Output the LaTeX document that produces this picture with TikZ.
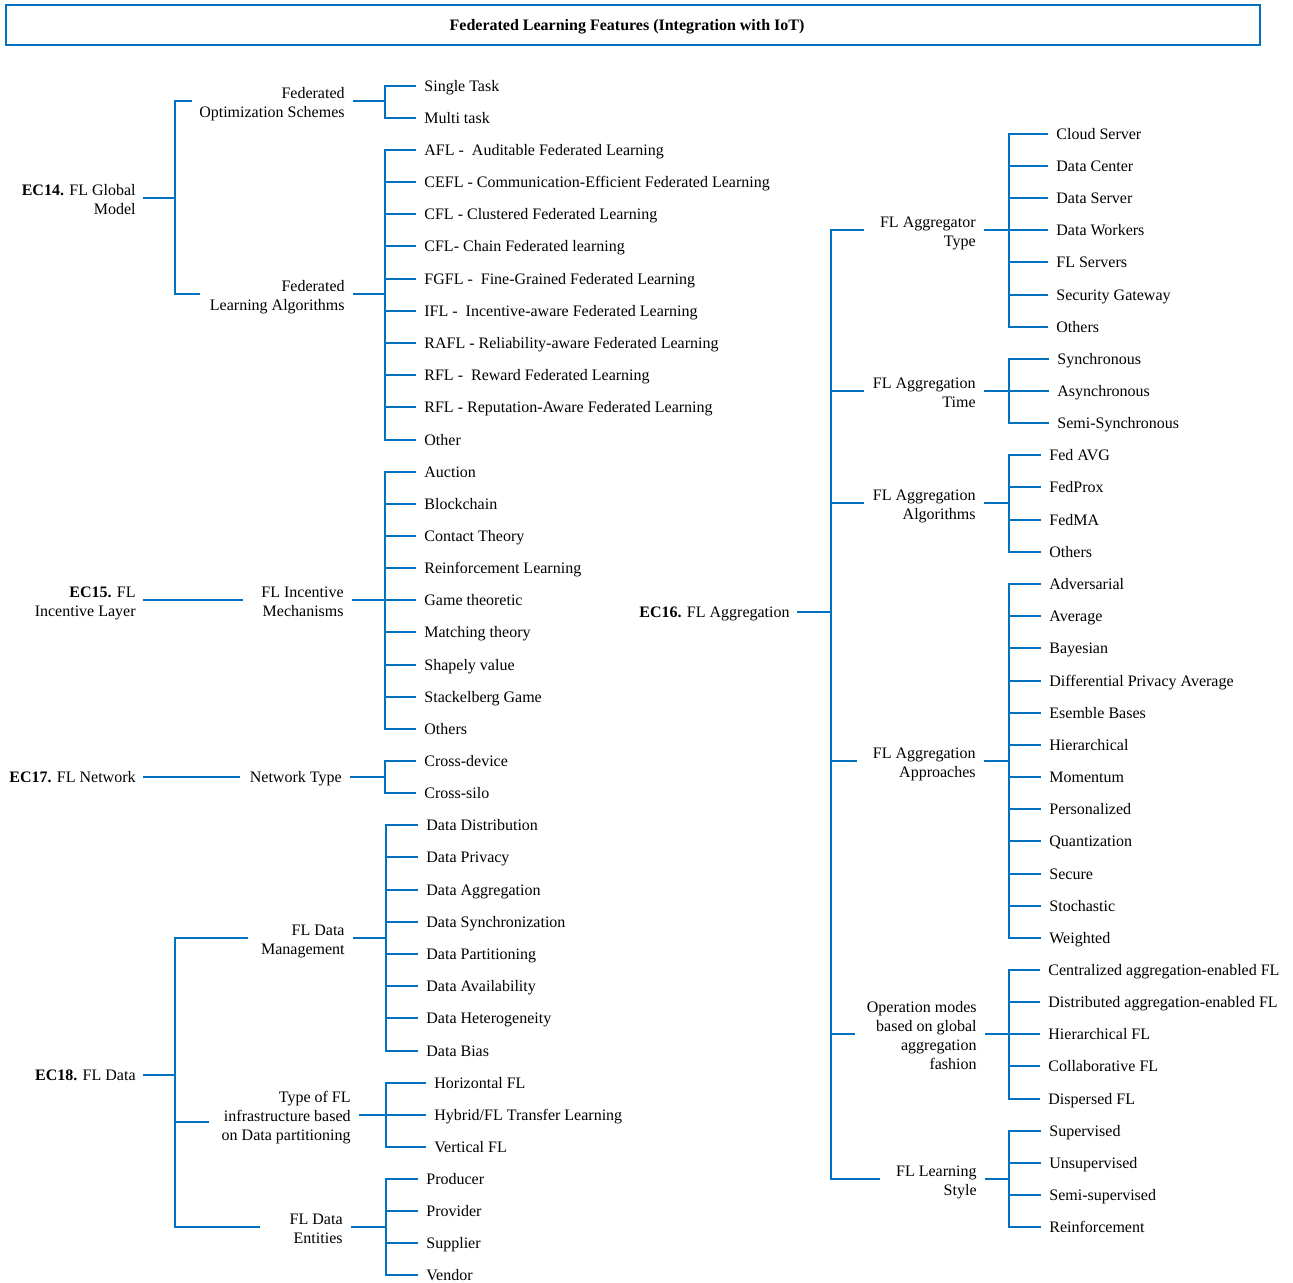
\documentclass[tikz,border=0pt]{standalone}
\usepackage{fontspec}
\setmainfont{Liberation Serif}
\definecolor{flblue}{RGB}{0,112,192}
\newcommand\tstrut{\rule{0pt}{8.5pt}}
\newcommand\bstrut{\rule[-1.7pt]{0pt}{1.7pt}}
\tikzset{
  ln/.style={draw=flblue, line width=0.6pt},
  txt/.style={font=\fontsize{8}{9.5}\selectfont, inner ysep=1pt},
  oneline/.style={text height=7pt, text depth=1.7pt},
  root/.style={txt, anchor=east, align=right, inner xsep=3.5pt},
  mid/.style={txt, anchor=east, align=right, inner xsep=4pt},
  leaf/.style={txt, oneline, anchor=west, inner xsep=4pt},
  titlebox/.style={txt, oneline, draw=flblue, line width=0.9pt, minimum width=627pt, minimum height=20pt}
}
\begin{document}
\begin{tikzpicture}[x=0.5pt, y=-0.5pt]
\useasboundingbox (0,0) rectangle (1293,1282);
\draw(633,25) node[titlebox] (title) {\textbf{Federated Learning Features (Integration with IoT)}\hspace*{6pt}};

% EC14 global model
\draw(143,198) node[root] (ec14) {\tstrut\textbf{EC14.} FL Global\\Model\bstrut};
\coordinate (j14) at (175,198);
\coordinate (fos-in) at (192,101);
\coordinate (fla-in) at (200,294);
\draw[ln] (ec14.east) -- (j14);
\draw[ln] (fos-in) -| (j14) |- (fla-in);
\draw(353,101) node[mid] (fos) {\tstrut Federated\\Optimization Schemes\bstrut};
\coordinate (b-fos) at (385,101); \draw[ln] (fos.east) -- (b-fos);
\draw(416,86) node[leaf] (fos1) {Single Task}; \draw[ln] (b-fos) |- (fos1.west);
\draw(416,118) node[leaf] (fos2) {Multi task}; \draw[ln] (b-fos) |- (fos2.west);
\draw(353,294) node[mid] (fla) {\tstrut Federated\\Learning Algorithms\bstrut};
\coordinate (b-fla) at (385,294); \draw[ln] (fla.east) -- (b-fla);
\draw(416,150) node[leaf] (fla1) {AFL -\ \ Auditable Federated Learning}; \draw[ln] (b-fla) |- (fla1.west);
\draw(416,182) node[leaf] (fla2) {CEFL - Communication-Efficient Federated Learning}; \draw[ln] (b-fla) |- (fla2.west);
\draw(416,214) node[leaf] (fla3) {CFL - Clustered Federated Learning}; \draw[ln] (b-fla) |- (fla3.west);
\draw(416,246) node[leaf] (fla4) {CFL- Chain Federated learning}; \draw[ln] (b-fla) |- (fla4.west);
\draw(416,279) node[leaf] (fla5) {FGFL -\ \ Fine-Grained Federated Learning}; \draw[ln] (b-fla) |- (fla5.west);
\draw(416,311) node[leaf] (fla6) {IFL -\ \ Incentive-aware Federated Learning}; \draw[ln] (b-fla) |- (fla6.west);
\draw(416,343) node[leaf] (fla7) {RAFL - Reliability-aware Federated Learning}; \draw[ln] (b-fla) |- (fla7.west);
\draw(416,375) node[leaf] (fla8) {RFL -\ \ Reward Federated Learning}; \draw[ln] (b-fla) |- (fla8.west);
\draw(416,407) node[leaf] (fla9) {RFL - Reputation-Aware Federated Learning}; \draw[ln] (b-fla) |- (fla9.west);
\draw(416,440) node[leaf] (fla10) {Other}; \draw[ln] (b-fla) |- (fla10.west);

% EC15 incentive layer
\draw(143,600) node[root] (ec15) {\tstrut\textbf{EC15.} FL\\Incentive Layer\bstrut};
\coordinate (j15) at (243,600);
\draw[ln] (ec15.east) -- (j15);
\draw(352,600) node[mid] (fim) {\tstrut FL Incentive\\Mechanisms\bstrut};
\coordinate (b-fim) at (385,600); \draw[ln] (fim.east) -- (b-fim);
\draw(416,472) node[leaf] (fim1) {Auction}; \draw[ln] (b-fim) |- (fim1.west);
\draw(416,504) node[leaf] (fim2) {Blockchain}; \draw[ln] (b-fim) |- (fim2.west);
\draw(416,536) node[leaf] (fim3) {Contact Theory}; \draw[ln] (b-fim) |- (fim3.west);
\draw(416,568) node[leaf] (fim4) {Reinforcement Learning}; \draw[ln] (b-fim) |- (fim4.west);
\draw(416,600) node[leaf] (fim5) {Game theoretic}; \draw[ln] (b-fim) |- (fim5.west);
\draw(416,632) node[leaf] (fim6) {Matching theory}; \draw[ln] (b-fim) |- (fim6.west);
\draw(416,665) node[leaf] (fim7) {Shapely value}; \draw[ln] (b-fim) |- (fim7.west);
\draw(416,697) node[leaf] (fim8) {Stackelberg Game}; \draw[ln] (b-fim) |- (fim8.west);
\draw(416,729) node[leaf] (fim9) {Others}; \draw[ln] (b-fim) |- (fim9.west);

% EC17 network
\draw(143,777) node[root, oneline] (ec17) {\textbf{EC17.} FL Network};
\coordinate (j17) at (240,777);
\draw[ln] (ec17.east) -- (j17);
\draw(350,777) node[mid, oneline] (nt) {Network Type};
\coordinate (b-nt) at (385,777); \draw[ln] (nt.east) -- (b-nt);
\draw(416,761) node[leaf] (nt1) {Cross-device}; \draw[ln] (b-nt) |- (nt1.west);
\draw(416,793) node[leaf] (nt2) {Cross-silo}; \draw[ln] (b-nt) |- (nt2.west);

% EC18 data
\draw(143,1075) node[root, oneline] (ec18) {\textbf{EC18.} FL Data};
\coordinate (j18) at (175,1075);
\coordinate (fdm-in) at (248,938);
\coordinate (tfi-in) at (209,1122);
\coordinate (fde-in) at (260,1227);
\draw[ln] (ec18.east) -- (j18);
\draw[ln] (fdm-in) -| (j18) |- (fde-in);
\draw[ln] (j18 |- tfi-in) -- (tfi-in);
\draw(353,938) node[mid] (fdm) {\tstrut FL Data\\Management\bstrut};
\coordinate (b-fdm) at (386,938); \draw[ln] (fdm.east) -- (b-fdm);
\draw(418,825) node[leaf] (fdm1) {Data Distribution}; \draw[ln] (b-fdm) |- (fdm1.west);
\draw(418,857) node[leaf] (fdm2) {Data Privacy}; \draw[ln] (b-fdm) |- (fdm2.west);
\draw(418,890) node[leaf] (fdm3) {Data Aggregation}; \draw[ln] (b-fdm) |- (fdm3.west);
\draw(418,922) node[leaf] (fdm4) {Data Synchronization}; \draw[ln] (b-fdm) |- (fdm4.west);
\draw(418,954) node[leaf] (fdm5) {Data Partitioning}; \draw[ln] (b-fdm) |- (fdm5.west);
\draw(418,986) node[leaf] (fdm6) {Data Availability}; \draw[ln] (b-fdm) |- (fdm6.west);
\draw(418,1018) node[leaf] (fdm7) {Data Heterogeneity}; \draw[ln] (b-fdm) |- (fdm7.west);
\draw(418,1051) node[leaf] (fdm8) {Data Bias}; \draw[ln] (b-fdm) |- (fdm8.west);
\draw(359,1115) node[mid] (tfi) {\tstrut Type of FL\\infrastructure based\\on Data partitioning\bstrut};
\coordinate (b-tfi) at (386,1115); \draw[ln] (tfi.east) -- (b-tfi);
\draw(426,1083) node[leaf] (tfi1) {Horizontal FL}; \draw[ln] (b-tfi) |- (tfi1.west);
\draw(426,1115) node[leaf] (tfi2) {Hybrid/FL Transfer Learning}; \draw[ln] (b-tfi) |- (tfi2.west);
\draw(426,1147) node[leaf] (tfi3) {Vertical FL}; \draw[ln] (b-tfi) |- (tfi3.west);
\draw(351,1227) node[mid] (fde) {\tstrut FL Data\\Entities\bstrut};
\coordinate (b-fde) at (386,1227); \draw[ln] (fde.east) -- (b-fde);
\draw(418,1179) node[leaf] (fde1) {Producer}; \draw[ln] (b-fde) |- (fde1.west);
\draw(418,1211) node[leaf] (fde2) {Provider}; \draw[ln] (b-fde) |- (fde2.west);
\draw(418,1243) node[leaf] (fde3) {Supplier}; \draw[ln] (b-fde) |- (fde3.west);
\draw(418,1275) node[leaf] (fde4) {Vendor}; \draw[ln] (b-fde) |- (fde4.west);

% EC16 aggregation
\draw(797,612) node[root, oneline] (ec16) {\textbf{EC16.} FL Aggregation};
\coordinate (j16) at (831,612);
\coordinate (fat-in) at (864,230);
\coordinate (fatm-in) at (864,391);
\coordinate (faal-in) at (864,503);
\coordinate (faap-in) at (857,761);
\coordinate (omg-in) at (855,1034);
\coordinate (fls-in) at (880,1179);
\draw[ln] (ec16.east) -- (j16);
\draw[ln] (fat-in) -| (j16) |- (fls-in);
\draw[ln] (j16 |- fatm-in) -- (fatm-in);
\draw[ln] (j16 |- faal-in) -- (faal-in);
\draw[ln] (j16 |- faap-in) -- (faap-in);
\draw[ln] (j16 |- omg-in) -- (omg-in);
\draw(984,230) node[mid] (fat) {\tstrut FL Aggregator\\Type\bstrut};
\coordinate (b-fat) at (1009,230); \draw[ln] (fat.east) -- (b-fat);
\draw(1048,134) node[leaf] (fat1) {Cloud Server}; \draw[ln] (b-fat) |- (fat1.west);
\draw(1048,166) node[leaf] (fat2) {Data Center}; \draw[ln] (b-fat) |- (fat2.west);
\draw(1048,198) node[leaf] (fat3) {Data Server}; \draw[ln] (b-fat) |- (fat3.west);
\draw(1048,230) node[leaf] (fat4) {Data Workers}; \draw[ln] (b-fat) |- (fat4.west);
\draw(1048,262) node[leaf] (fat5) {FL Servers}; \draw[ln] (b-fat) |- (fat5.west);
\draw(1048,295) node[leaf] (fat6) {Security Gateway}; \draw[ln] (b-fat) |- (fat6.west);
\draw(1048,327) node[leaf] (fat7) {Others}; \draw[ln] (b-fat) |- (fat7.west);
\draw(984,391) node[mid] (fatm) {\tstrut FL Aggregation\\Time\bstrut};
\coordinate (b-fatm) at (1009,391); \draw[ln] (fatm.east) -- (b-fatm);
\draw(1049,359) node[leaf] (fatm1) {Synchronous}; \draw[ln] (b-fatm) |- (fatm1.west);
\draw(1049,391) node[leaf] (fatm2) {Asynchronous}; \draw[ln] (b-fatm) |- (fatm2.west);
\draw(1049,423) node[leaf] (fatm3) {Semi-Synchronous}; \draw[ln] (b-fatm) |- (fatm3.west);
\draw(984,503) node[mid] (faal) {\tstrut FL Aggregation\\Algorithms\bstrut};
\coordinate (b-faal) at (1009,503); \draw[ln] (faal.east) -- (b-faal);
\draw(1041,455) node[leaf] (faal1) {Fed AVG}; \draw[ln] (b-faal) |- (faal1.west);
\draw(1041,487) node[leaf] (faal2) {FedProx}; \draw[ln] (b-faal) |- (faal2.west);
\draw(1041,520) node[leaf] (faal3) {FedMA}; \draw[ln] (b-faal) |- (faal3.west);
\draw(1041,552) node[leaf] (faal4) {Others}; \draw[ln] (b-faal) |- (faal4.west);
\draw(984,761) node[mid] (faap) {\tstrut FL Aggregation\\Approaches\bstrut};
\coordinate (b-faap) at (1009,761); \draw[ln] (faap.east) -- (b-faap);
\draw(1041,584) node[leaf] (faap1) {Adversarial}; \draw[ln] (b-faap) |- (faap1.west);
\draw(1041,616) node[leaf] (faap2) {Average}; \draw[ln] (b-faap) |- (faap2.west);
\draw(1041,648) node[leaf] (faap3) {Bayesian}; \draw[ln] (b-faap) |- (faap3.west);
\draw(1041,681) node[leaf] (faap4) {Differential Privacy Average}; \draw[ln] (b-faap) |- (faap4.west);
\draw(1041,713) node[leaf] (faap5) {Esemble Bases}; \draw[ln] (b-faap) |- (faap5.west);
\draw(1041,745) node[leaf] (faap6) {Hierarchical}; \draw[ln] (b-faap) |- (faap6.west);
\draw(1041,777) node[leaf] (faap7) {Momentum}; \draw[ln] (b-faap) |- (faap7.west);
\draw(1041,809) node[leaf] (faap8) {Personalized}; \draw[ln] (b-faap) |- (faap8.west);
\draw(1041,841) node[leaf] (faap9) {Quantization}; \draw[ln] (b-faap) |- (faap9.west);
\draw(1041,874) node[leaf] (faap10) {Secure}; \draw[ln] (b-faap) |- (faap10.west);
\draw(1041,906) node[leaf] (faap11) {Stochastic}; \draw[ln] (b-faap) |- (faap11.west);
\draw(1041,938) node[leaf] (faap12) {Weighted}; \draw[ln] (b-faap) |- (faap12.west);
\draw(985,1034) node[mid] (omg) {\tstrut Operation modes\\based on global\\aggregation\\fashion\bstrut};
\coordinate (b-omg) at (1009,1034); \draw[ln] (omg.east) -- (b-omg);
\draw(1040,970) node[leaf] (omg1) {Centralized aggregation-enabled FL}; \draw[ln] (b-omg) |- (omg1.west);
\draw(1040,1002) node[leaf] (omg2) {Distributed aggregation-enabled FL}; \draw[ln] (b-omg) |- (omg2.west);
\draw(1040,1034) node[leaf] (omg3) {Hierarchical FL}; \draw[ln] (b-omg) |- (omg3.west);
\draw(1040,1066) node[leaf] (omg4) {Collaborative FL}; \draw[ln] (b-omg) |- (omg4.west);
\draw(1040,1099) node[leaf] (omg5) {Dispersed FL}; \draw[ln] (b-omg) |- (omg5.west);
\draw(985,1179) node[mid] (fls) {\tstrut FL Learning\\Style\bstrut};
\coordinate (b-fls) at (1009,1179); \draw[ln] (fls.east) -- (b-fls);
\draw(1041,1131) node[leaf] (fls1) {Supervised}; \draw[ln] (b-fls) |- (fls1.west);
\draw(1041,1163) node[leaf] (fls2) {Unsupervised}; \draw[ln] (b-fls) |- (fls2.west);
\draw(1041,1195) node[leaf] (fls3) {Semi-supervised}; \draw[ln] (b-fls) |- (fls3.west);
\draw(1041,1227) node[leaf] (fls4) {Reinforcement}; \draw[ln] (b-fls) |- (fls4.west);
\end{tikzpicture}
\end{document}
